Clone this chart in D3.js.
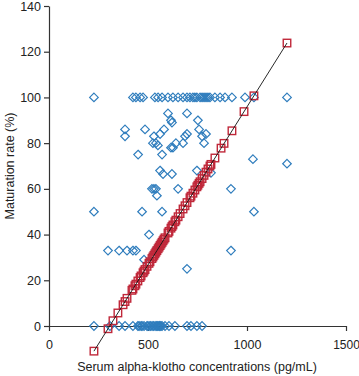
<!DOCTYPE html>
<html>
<head>
<meta charset="utf-8">
<script src="https://cdn.jsdelivr.net/npm/d3@7"></script>
<style>
  body { margin: 0; background: #fff; }
  text { font-family: "Liberation Sans", Arial, sans-serif; }
</style>
</head>
<body>
<script>
var width = 359;
var height = 376;

// observed points: serum alpha-klotho (pg/mL) and maturation rate (%)
var klotho = [
  // rate 100
  227, 424, 439, 460, 475, 535, 551, 571, 601, 626, 652, 677, 697, 712, 727,
  737, 747, 763, 773, 783, 793, 803, 813, 838, 864, 889, 924, 990, 1035, 1202,
  // rate 0
  227, 308, 354, 384, 424, 449, 455, 465, 470, 480, 495, 500, 510, 515, 525,
  530, 540, 545, 550, 556, 560, 565, 571, 586, 606, 636, 697, 717, 747, 773,
  // in between
  601, 616, 621, 697, 752, 384, 384, 485, 581, 530, 561, 450, 525, 540, 550,
  571, 616, 626, 641, 561, 576, 621, 758, 687, 697, 773, 793, 783, 677, 747,
  818, 1030, 1202, 919, 520, 530, 540, 545, 652, 227, 470, 571, 1035, 505, 298,
  354, 394, 424, 439, 480, 545, 919, 697
];
var maturation = [
  100, 100, 100, 100, 100, 100, 100, 100, 100, 100, 100, 100, 100, 100, 100,
  100, 100, 100, 100, 100, 100, 100, 100, 100, 100, 100, 100, 100, 100, 100,
  0, 0, 0, 0, 0, 0, 0, 0, 0, 0, 0, 0, 0, 0, 0,
  0, 0, 0, 0, 0, 0, 0, 0, 0, 0, 0, 0, 0, 0, 0,
  93, 90, 89, 93, 90, 86, 83, 86, 86, 83, 84, 75, 80, 80, 79,
  75, 78, 78, 80, 68, 66.5, 66.5, 86, 83, 84, 83, 84, 80, 80, 68,
  67, 73, 71, 60, 60, 60, 60, 57, 60, 50, 50, 50, 50, 40, 33,
  33, 33, 33, 33, 29, 34, 33, 25
];

// fitted values (red squares)
var fitKlotho = [
  227, 298, 323, 348, 374, 384, 394, 419, 424, 434, 439, 449, 460, 465, 475,
  480, 485, 495, 505, 510, 520, 525, 530, 535, 540, 545, 551, 556, 561, 566,
  571, 576, 581, 586, 601, 606, 616, 621, 626, 636, 641, 652, 662, 677, 687,
  697, 712, 717, 727, 737, 747, 752, 758, 763, 773, 783, 793, 803, 813, 818,
  838, 869, 884, 924, 985, 1035, 1202
];
var fitRate = [
  -11.0, -1.2, 2.3, 5.7, 9.3, 10.7, 12.1, 15.6, 16.2, 17.6, 18.3, 19.7, 21.2, 21.9, 23.3,
  24.0, 24.7, 26.1, 27.4, 28.1, 29.5, 30.2, 30.9, 31.6, 32.3, 33.0, 33.8, 34.5, 35.2, 35.9,
  36.6, 37.3, 38.0, 38.6, 40.7, 41.4, 42.8, 43.5, 44.2, 45.6, 46.3, 47.8, 49.2, 51.2, 52.6,
  54.0, 56.1, 56.8, 58.1, 59.5, 60.9, 61.6, 62.4, 63.1, 64.5, 65.9, 67.3, 68.7, 70.0, 70.7,
  73.5, 77.8, 79.9, 85.4, 93.8, 100.7, 123.8
];

var xTicks = [0, 500, 1000, 1500];
var yTicks = [0, 20, 40, 60, 80, 100, 120, 140];

var xScale = d3.scaleLinear().domain([0, 1500]).range([49, 346]);
var yScale = d3.scaleLinear().domain([0, 140]).range([326, 6]);

var svg = d3.select("body")
  .append("svg")
  .attr("width", width)
  .attr("height", height);

// axes
var xAxis = d3.axisBottom(xScale).tickValues(xTicks).tickFormat(d3.format("d"))
  .tickSize(5).tickSizeOuter(0).tickPadding(9);
var yAxis = d3.axisLeft(yScale).tickValues(yTicks).tickFormat(d3.format("d"))
  .tickSize(5).tickSizeOuter(0).tickPadding(3);

var gx = svg.append("g")
  .attr("transform", "translate(0," + yScale(0) + ")")
  .call(xAxis);
var gy = svg.append("g")
  .attr("transform", "translate(" + xScale(0) + ",0)")
  .call(yAxis);

[gx, gy].forEach(function(g) {
  g.selectAll("path, line").attr("stroke", "#333").attr("stroke-width", 1.2);
  g.selectAll("text")
    .attr("font-family", "Liberation Sans, Arial, sans-serif")
    .attr("font-size", "12.5px")
    .attr("fill", "#222");
});
gx.selectAll(".tick:last-of-type text").attr("font-size", "12px");

// observed diamonds
var points = klotho.map(function(k, i) { return [k, maturation[i]]; });
svg.append("g")
  .selectAll("path")
  .data(points)
  .enter()
  .append("path")
  .attr("d", function(d) {
    var cx = xScale(d[0]), cy = yScale(d[1]), r = 4.3;
    return "M" + cx + "," + (cy - r) + "L" + (cx + r) + "," + cy +
           "L" + cx + "," + (cy + r) + "L" + (cx - r) + "," + cy + "Z";
  })
  .attr("fill", "none")
  .attr("stroke", "#2f7dbd")
  .attr("stroke-width", 1.2);

// fitted squares
var fitted = fitKlotho.map(function(k, i) { return [k, fitRate[i]]; });
var s = 7.5;
svg.append("g")
  .selectAll("rect")
  .data(fitted)
  .enter()
  .append("rect")
  .attr("x", function(d) { return xScale(d[0]) - s / 2; })
  .attr("y", function(d) { return yScale(d[1]) - s / 2; })
  .attr("width", s)
  .attr("height", s)
  .attr("fill", "none")
  .attr("stroke", "#c0283a")
  .attr("stroke-width", 1.4);

// fitted line
var line = d3.line()
  .x(function(d) { return xScale(d[0]); })
  .y(function(d) { return yScale(d[1]); });
svg.append("path")
  .datum([fitted[0], fitted[fitted.length - 1]])
  .attr("d", line)
  .attr("fill", "none")
  .attr("stroke", "#111")
  .attr("stroke-width", 0.9);

// axis titles
svg.append("text")
  .attr("x", 197)
  .attr("y", 371)
  .attr("text-anchor", "middle")
  .attr("font-size", "12.5px")
  .attr("fill", "#222")
  .text("Serum alpha-klotho concentrations (pg/mL)");

svg.append("text")
  .attr("transform", "translate(14,166) rotate(-90)")
  .attr("text-anchor", "middle")
  .attr("font-size", "12.5px")
  .attr("fill", "#222")
  .text("Maturation rate (%)");
</script>
</body>
</html>
